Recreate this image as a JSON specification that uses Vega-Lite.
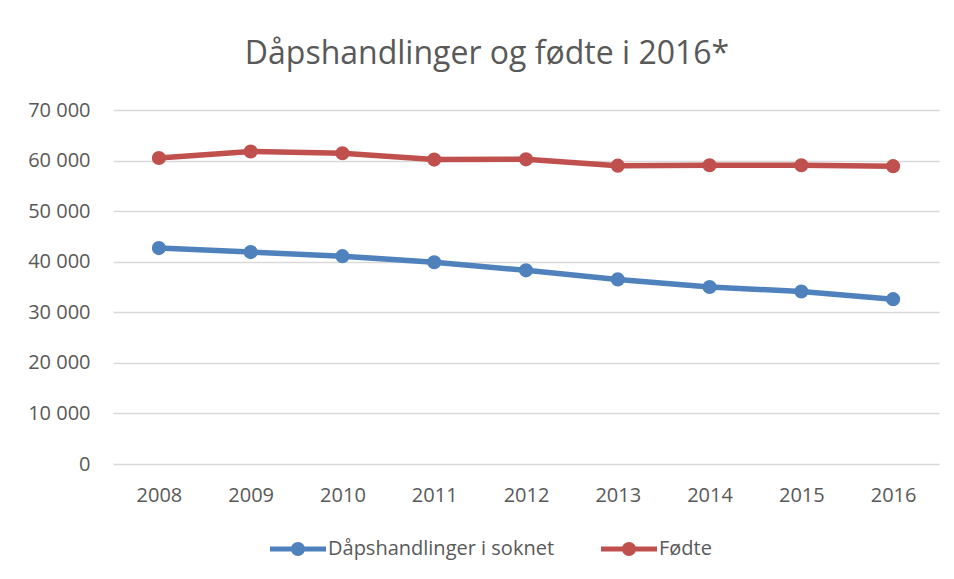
{
  "$schema": "https://vega.github.io/schema/vega-lite/v6.json",
  "width": 826,
  "height": 354,
  "autosize": {"type": "none"},
  "padding": {"left": 113, "top": 110, "right": 15, "bottom": 115},
  "background": "white",
  "title": {
    "text": "Dåpshandlinger og fødte i 2016*",
    "font": "Open Sans",
    "fontSize": 32,
    "fontWeight": "normal",
    "color": "#595959",
    "anchor": "middle",
    "offset": 29,
    "dx": -39
  },
  "data": {
    "values": [
      {"year": "2008", "series": "Dåpshandlinger i soknet", "value": 42700},
      {"year": "2009", "series": "Dåpshandlinger i soknet", "value": 41900},
      {"year": "2010", "series": "Dåpshandlinger i soknet", "value": 41100},
      {"year": "2011", "series": "Dåpshandlinger i soknet", "value": 39900},
      {"year": "2012", "series": "Dåpshandlinger i soknet", "value": 38300},
      {"year": "2013", "series": "Dåpshandlinger i soknet", "value": 36500},
      {"year": "2014", "series": "Dåpshandlinger i soknet", "value": 35000},
      {"year": "2015", "series": "Dåpshandlinger i soknet", "value": 34100},
      {"year": "2016", "series": "Dåpshandlinger i soknet", "value": 32600},
      {"year": "2008", "series": "Fødte", "value": 60500},
      {"year": "2009", "series": "Fødte", "value": 61800},
      {"year": "2010", "series": "Fødte", "value": 61450},
      {"year": "2011", "series": "Fødte", "value": 60200},
      {"year": "2012", "series": "Fødte", "value": 60250},
      {"year": "2013", "series": "Fødte", "value": 59000},
      {"year": "2014", "series": "Fødte", "value": 59080},
      {"year": "2015", "series": "Fødte", "value": 59080},
      {"year": "2016", "series": "Fødte", "value": 58890}
    ]
  },
  "mark": {"type": "line", "strokeWidth": 5.5, "point": {"filled": true, "size": 200, "opacity": 1}},
  "encoding": {
    "x": {
      "field": "year",
      "type": "ordinal",
      "scale": {"paddingInner": 0, "paddingOuter": 0},
      "axis": {
        "title": null,
        "labelAngle": 0,
        "domain": false,
        "ticks": false,
        "grid": false,
        "labelPadding": 21,
        "labelFont": "Open Sans",
        "labelFontSize": 20,
        "labelColor": "#595959"
      }
    },
    "y": {
      "field": "value",
      "type": "quantitative",
      "scale": {"domain": [0, 70000], "nice": false},
      "axis": {
        "title": null,
        "values": [0, 10000, 20000, 30000, 40000, 50000, 60000, 70000],
        "labelExpr": "replace(format(datum.value, ','), ',', ' ')",
        "domain": false,
        "ticks": false,
        "gridColor": "#d9d9d9",
        "gridWidth": 1.5,
        "labelPadding": 23,
        "labelFont": "Open Sans",
        "labelFontSize": 20,
        "labelColor": "#595959"
      }
    },
    "color": {
      "field": "series",
      "type": "nominal",
      "sort": ["Dåpshandlinger i soknet", "Fødte"],
      "scale": {"domain": ["Dåpshandlinger i soknet", "Fødte"], "range": ["#4f81bd", "#c0504d"]},
      "legend": {
        "title": null,
        "orient": "none",
        "direction": "horizontal",
        "legendX": 157,
        "legendY": 411,
        "symbolType": "M-1,-0.09 L-0.2,-0.09 L-0.2,0.09 L-1,0.09 Z M0.2,-0.09 L1,-0.09 L1,0.09 L0.2,0.09 Z M0.25,0 A0.25,0.25 0 1,1 -0.25,0 A0.25,0.25 0 1,1 0.25,0 Z",
        "symbolSize": 3136,
        "symbolStrokeWidth": 0,
        "labelFont": "Open Sans",
        "labelFontSize": 20,
        "labelColor": "#595959",
        "labelLimit": 400,
        "labelOffset": 2,
        "columnPadding": 46,
        "encode": {
          "symbols": {"update": {"fill": {"scale": "color", "field": "value"}, "size": {"value": 3136}, "strokeWidth": {"value": 0}, "opacity": {"value": 1}}}
        }
      }
    }
  },
  "config": {"view": {"stroke": null}}
}
